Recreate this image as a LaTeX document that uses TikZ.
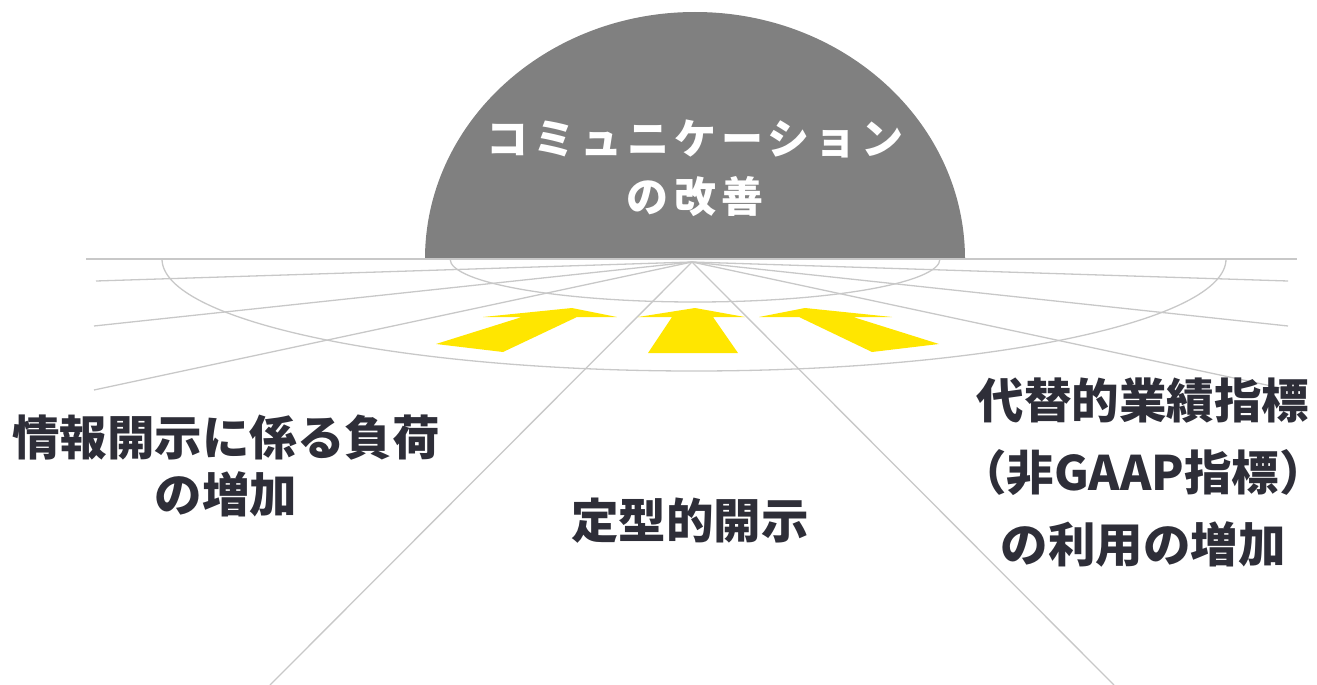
\documentclass[tikz,border=0pt]{standalone}
\usepackage{fontspec}
\newfontfamily\jpfont{Noto Sans CJK JP}
\definecolor{domegray}{RGB}{128,128,128}
\definecolor{linegray}{RGB}{200,200,200}
\definecolor{arrowyellow}{RGB}{255,230,0}
\definecolor{textdark}{RGB}{46,46,56}
\tikzset{
  guide/.style={draw=linegray, line width=1.3pt},
  bigarrow/.style={fill=arrowyellow, draw=none},
  label/.style={text=textdark, align=center, inner sep=0pt,
    font=\jpfont\bfseries\fontsize{47.5}{57}\selectfont},
}
\begin{document}
\begin{tikzpicture}[x=1pt,y=-1pt]
\path[use as bounding box] (0,0) rectangle (1317,685);
% dome
\fill[domegray] (425,259) arc[start angle=180, end angle=360, x radius=270, y radius=247] -- cycle;
% vanishing point
\coordinate (vp) at (692,262);
\coordinate (hl) at (86,259);
\coordinate (hr) at (1297,259);
\coordinate (l1) at (96,281);
\coordinate (l2) at (94,326);
\coordinate (l3) at (94,390);
\coordinate (l4) at (270,685);
\coordinate (r1) at (1288,281);
\coordinate (r2) at (1288,326);
\coordinate (r3) at (1290,390);
\coordinate (r4) at (1114,685);
\draw[guide] (hl) -- (hr);
\foreach \p in {l1,l2,l3,l4,r1,r2,r3,r4} \draw[guide] (vp) -- (\p);
% ellipse arcs
\draw[guide] (450,259) arc[start angle=180, end angle=0, x radius=245, y radius=43];
\draw[guide] (162,259) arc[start angle=180, end angle=0, x radius=532, y radius=112];
% yellow arrows
\fill[bigarrow] (695,308) -- (745,317) -- (713,317) -- (738,353) -- (648,353) -- (672,317) -- (638,317) -- cycle;
\fill[bigarrow] (572,308) -- (617,317) -- (577,317) -- (503,352) -- (436,344) -- (522,317) -- (483,317) -- cycle;
\fill[bigarrow] (805,308) -- (892,317) -- (853,317) -- (939,344) -- (872,352) -- (799,317) -- (759,317) -- cycle;
% texts
\node[text=white, align=center, inner sep=0pt,
  font=\jpfont\bfseries\fontsize{42}{58}\selectfont\addfontfeature{LetterSpace=12}] (dome) at (695,168) {コミュニケーション\\の改善};
\node[label] (left) at (226,466) {情報開示に係る負荷\\の増加};
\node[label] (center) at (690,521) {定型的開示};
\node[label, font=\jpfont\bfseries\fontsize{47.5}{72}\selectfont] (right) at (1143,473) {代替的業績指標\\（非GAAP指標）\\の利用の増加};
\end{tikzpicture}
\end{document}
